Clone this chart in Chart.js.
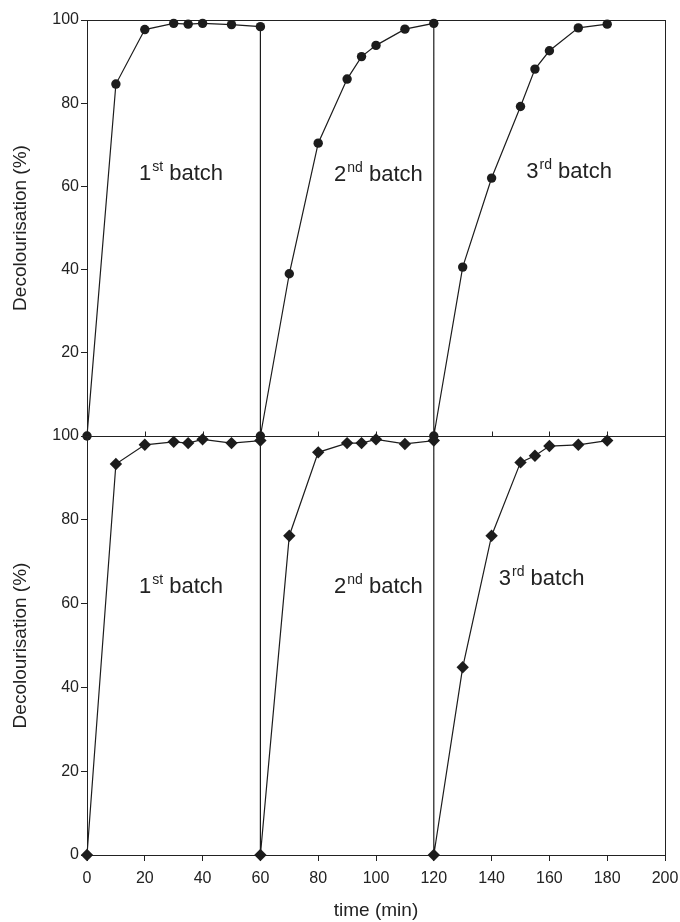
<!DOCTYPE html>
<html><head><meta charset="utf-8">
<script src="https://cdn.jsdelivr.net/npm/chart.js@4"></script>
<style>
html,body{margin:0;padding:0;background:#fff;}
#wrap{position:relative;width:680px;height:922px;overflow:hidden;}
canvas{position:absolute;left:0;}
#cTop{top:0;}
#cBot{top:420px;}
</style></head><body>
<div id="wrap">
<canvas id="cTop" width="680" height="447"></canvas>
<canvas id="cBot" width="680" height="502"></canvas>
</div>
<script>
// ---- data ----
const timeTop = [0,10,20,30,35,40,50,60, 60,70,80,90,95,100,110,120, 120,130,140,150,155,160,170,180];
const decolTop = [0,84.6,97.7,99.2,99.0,99.2,98.9,98.4, 0,39.0,70.4,85.8,91.2,93.9,97.8,99.2, 0,40.6,62.0,79.2,88.2,92.6,98.1,99.0];
const timeBottom = [0,10,20,30,35,40,50,60, 60,70,80,90,95,100,110,120, 120,130,140,150,155,160,170,180];
const decolBottom = [0,93.3,97.9,98.6,98.3,99.2,98.3,98.9, 0,76.2,96.1,98.3,98.3,99.2,98.1,98.9, 0,44.8,76.2,93.7,95.3,97.6,97.9,98.9];
const xTicks = [0,20,40,60,80,100,120,140,160,180,200];
const yTicks = [0,20,40,60,80,100];
const batchNums = ['1','2','3'];
const batchSups = ['st','nd','rd'];
const batchWord = ' batch';
// annotation anchors (data units)
const labelXTop = [18, 85.5, 152];
const labelYTop = [61.6, 61.4, 62.0];
const labelXBottom = [18, 85.5, 142.5];
const labelYBottom = [62.5, 62.5, 64.4];

const INK = '#1c1c1c';
const AXIS = '#222';
const FONT = '"Liberation Sans", Arial, sans-serif';

function pts(xs, ys){ return xs.map((x,i)=>({x:x, y:ys[i]})); }

function drawBatchLabel(ctx, x, y, num, sup, rest){
  ctx.save();
  ctx.fillStyle = '#222';
  ctx.textAlign = 'left';
  ctx.textBaseline = 'alphabetic';
  ctx.font = '22px ' + FONT;
  ctx.fillText(num, x, y);
  let w = ctx.measureText(num).width + 1;
  ctx.font = '14px ' + FONT;
  ctx.fillText(sup, x + w, y - 9);
  w += ctx.measureText(sup).width;
  ctx.font = '22px ' + FONT;
  ctx.fillText(rest, x + w, y);
  ctx.restore();
}

function framePlugin(labelXs, labelYs, innerTicks){
  return {
    id: 'frame',
    beforeDatasetsDraw(chart){
      const {ctx, chartArea:a, scales:{x}} = chart;
      ctx.save();
      ctx.strokeStyle = AXIS;
      ctx.lineWidth = 1;
      ctx.strokeRect(Math.round(a.left)+0.5, Math.round(a.top)+0.5, Math.round(a.right-a.left), Math.round(a.bottom-a.top));
      if (innerTicks){
        ctx.beginPath();
        xTicks.forEach(v=>{
          const px = Math.round(x.getPixelForValue(v))+0.5;
          ctx.moveTo(px, Math.round(a.bottom)+0.5);
          ctx.lineTo(px, Math.round(a.bottom)-4.5);
        });
        ctx.stroke();
      }
      ctx.restore();
    },
    afterDraw(chart){
      const {ctx, scales:{x,y}} = chart;
      for (let i=0;i<batchNums.length;i++){
        drawBatchLabel(ctx, x.getPixelForValue(labelXs[i]), y.getPixelForValue(labelYs[i]), batchNums[i], batchSups[i], batchWord);
      }
    }
  };
}

function yScale(){
  return {
    type:'linear', min:0, max:100,
    afterBuildTicks(s){ s.ticks = yTicks.map(v=>({value:v})); },
    afterFit(s){ s.width = 87; s.paddingTop = 0; s.paddingBottom = 0; },
    ticks:{ color:'#222', font:{family:FONT, size:16}, padding:2 },
    grid:{ drawOnChartArea:false, tickLength:6, color:AXIS, tickColor:AXIS },
    border:{ color:AXIS, width:1 },
    title:{ display:true, text:'Decolourisation (%)', color:'#222', font:{family:FONT, size:19}, padding:{top:9,bottom:0} }
  };
}

const common = {
  responsive:false, animation:false, devicePixelRatio:1,
  plugins:{ legend:{display:false}, tooltip:{enabled:false} },
  elements:{ line:{ tension:0 } }
};

// top chart
const topY = yScale();
topY.afterBuildTicks = s => { s.ticks = yTicks.filter(v=>v!==0).map(v=>({value:v})); };
new Chart(document.getElementById('cTop'), {
  type:'scatter',
  data:{ datasets:[{
    data: pts(timeTop, decolTop), showLine:true, clip:false,
    borderColor:INK, borderWidth:1.2,
    pointStyle:'circle', pointRadius:4.7, pointBackgroundColor:INK, pointBorderColor:INK, pointBorderWidth:0
  }]},
  options: Object.assign({}, common, {
    layout:{ padding:{ left:0, right:15, top:20, bottom:11 } },
    scales:{
      x:{ type:'linear', min:0, max:200, display:false },
      y: topY
    }
  }),
  plugins:[framePlugin(labelXTop, labelYTop, true)]
});

// bottom chart
new Chart(document.getElementById('cBot'), {
  type:'scatter',
  data:{ datasets:[{
    data: pts(timeBottom, decolBottom), showLine:true, clip:false,
    borderColor:INK, borderWidth:1.2,
    pointStyle:'rectRot', pointRadius:6.2, pointBackgroundColor:INK, pointBorderColor:INK, pointBorderWidth:0
  }]},
  options: Object.assign({}, common, {
    layout:{ padding:{ left:0, right:15, top:16, bottom:0 } },
    scales:{
      x:{
        type:'linear', min:0, max:200,
        afterBuildTicks(s){ s.ticks = xTicks.map(v=>({value:v})); },
        afterFit(s){ s.height = 67; s.paddingLeft = 0; s.paddingRight = 0; },
        ticks:{ color:'#222', font:{family:FONT, size:16}, padding:8, maxRotation:0 },
        grid:{ drawOnChartArea:false, tickLength:6, color:AXIS, tickColor:AXIS },
        border:{ color:AXIS, width:1 },
        title:{ display:true, text:'time (min)', color:'#222', font:{family:FONT, size:19}, padding:{top:0,bottom:0} }
      },
      y: yScale()
    }
  }),
  plugins:[framePlugin(labelXBottom, labelYBottom, false)]
});
</script>
</body></html>
